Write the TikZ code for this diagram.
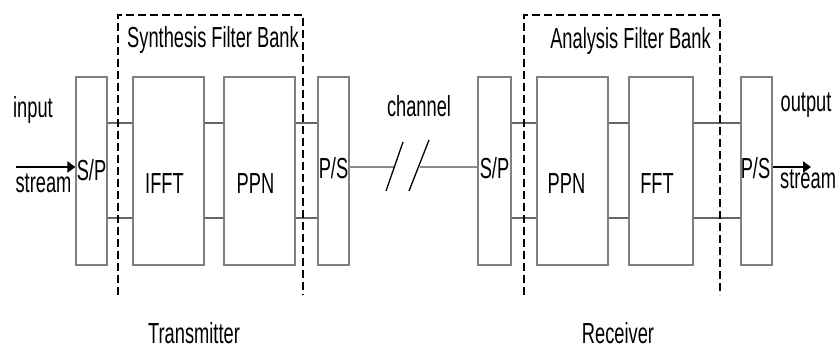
\documentclass[tikz,border=0pt]{standalone}
\usepackage{fontspec}
\setmainfont{Liberation Sans}
\usepackage{tikz}
\usetikzlibrary{arrows.meta,positioning,calc}
\definecolor{boxgray}{gray}{0.5}
\definecolor{wiregray}{gray}{0.4}
\definecolor{changray}{gray}{0.55}
\tikzset{
  blk/.style={draw=boxgray,line width=1.2pt,minimum height=188pt,
              inner sep=0pt},
  nrw/.style={blk,minimum width=31pt},
  wide/.style={blk,minimum width=71pt},
  txt/.style={font=\fontsize{29}{33}\selectfont,xscale=0.63,inner sep=0pt,
              anchor=base},
  wire/.style={draw=wiregray,line width=1.3pt},
  fb/.style={line width=1.9pt,dash pattern=on 8pt off 4pt},
  io/.style={line width=2pt,-{Triangle[length=8pt,width=11pt]}},
}
\begin{document}
\begin{tikzpicture}[x=1pt, y=-1pt]
  \useasboundingbox (0,0) rectangle (835,350);
  % transmitter
  \node[nrw] (sp1) at (91.5,171) {};
  \node[wide] (ifft) at (168.5,171) {};
  \node[wide] (ppn1) at (259.5,171) {};
  \node[nrw] (ps1) at (333.5,171) {};
  % receiver
  \node[nrw, minimum width=33pt] (sp2) at (494.5,171) {};
  \node[wide] (ppn2) at (572.5,171) {};
  \node[wide, minimum width=64pt] (fft) at (661,171) {};
  \node[nrw] (ps2) at (756.5,171) {};
  % box labels
  \node[txt] at ([yshift=-9pt]sp1.center) {S/P};
  \node[txt] at ([xshift=-4pt,yshift=-22pt]ifft.center) {IFFT};
  \node[txt] at ([xshift=-4pt,yshift=-22pt]ppn1.center) {PPN};
  \node[txt] at ([yshift=-7pt]ps1.center) {P/S};
  \node[txt] at ([yshift=-7pt]sp2.center) {S/P};
  \node[txt] at ([xshift=-6pt,yshift=-22pt]ppn2.center) {PPN};
  \node[txt] at ([xshift=-4pt,yshift=-22pt]fft.center) {FFT};
  \node[txt] at ([xshift=-1pt,yshift=-7pt]ps2.center) {P/S};
  % parallel wires
  \foreach \a/\b in {sp1/ifft,ifft/ppn1,ppn1/ps1,sp2/ppn2,ppn2/fft,fft/ps2}
    \foreach \dy in {48,-47}
      \draw[wire] ([yshift=\dy pt]\a.east) -- ([yshift=\dy pt]\b.west);
  % filter banks
  \draw[fb] (118,295) -- (118,15) -- (303,15) -- (303,295);
  \draw[fb] (524,295) -- (524,15) -- (720,15) -- (720,295);
  \node[txt] at (213,48) {Synthesis Filter Bank};
  \node[txt] at (630.5,49) {Analysis Filter Bank};
  % channel
  \coordinate (c1) at (395,167);
  \coordinate (c2) at (420,167);
  \draw[draw=changray,line width=2pt] ([yshift=4pt]ps1.east) -- (c1);
  \draw[draw=changray,line width=2pt] (c2) -- ([yshift=4pt]sp2.west);
  \draw[line width=1.3pt] (386,191) -- (403,142);
  \draw[line width=1.3pt] (409,191) -- (429,140);
  \node[txt] at (419,117) {channel};
  % input / output
  \coordinate (in) at (16,167);
  \coordinate (out) at (811,167);
  \draw[io] (in) -- ([yshift=4pt]sp1.west);
  \draw[io] ([yshift=4pt]ps2.east) -- (out);
  \node[txt] at (33,118) {input};
  \node[txt] at (43.5,192) {stream};
  \node[txt] at (806,112) {output};
  \node[txt, anchor=base west] at (780,188) {stream};
  \node[txt] at (194,343) {Transmitter};
  \node[txt] at (618,343) {Receiver};
\end{tikzpicture}
\end{document}
